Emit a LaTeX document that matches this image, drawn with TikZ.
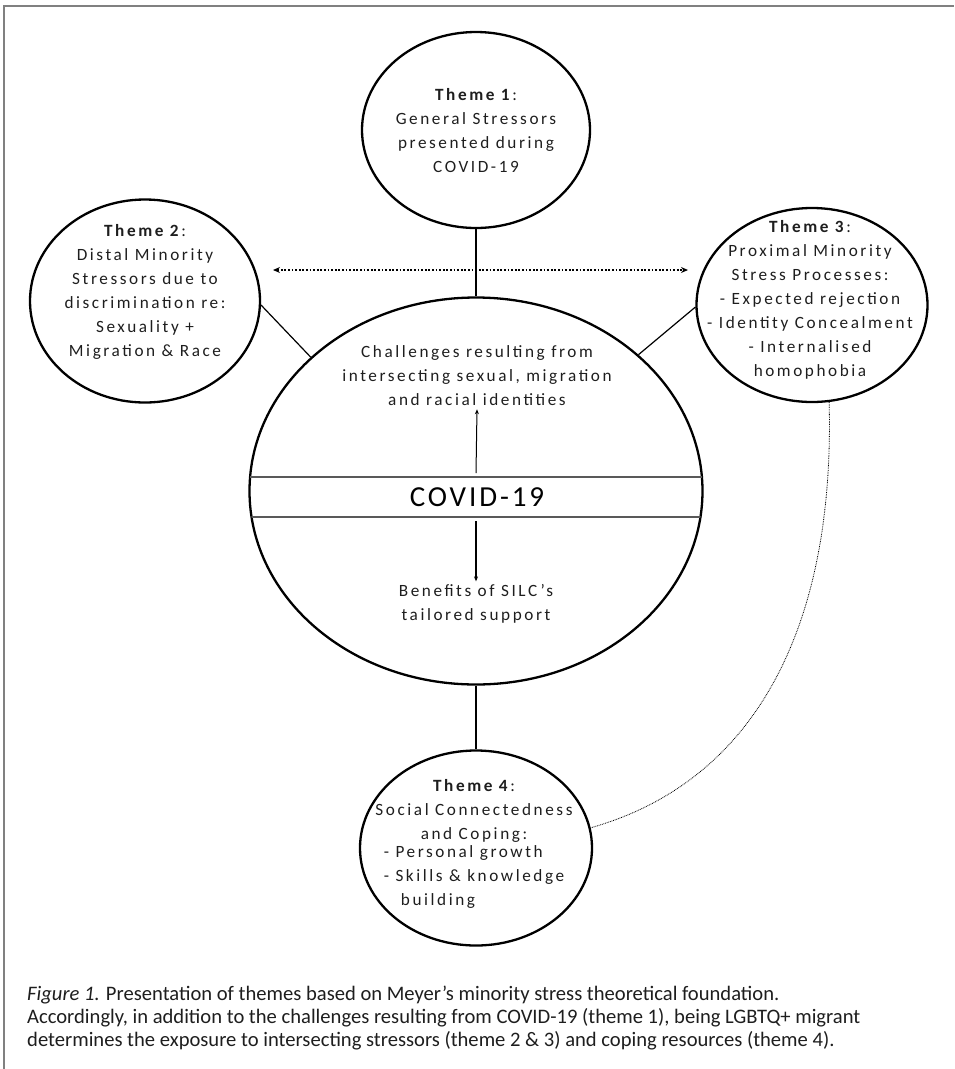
\documentclass[tikz,border=0pt]{standalone}
\usepackage{fontspec}
\setmainfont{Carlito}
\newfontfamily\widefont[LetterSpace=15]{Carlito}
\newfontfamily\titlefont[LetterSpace=10]{Carlito}
\usetikzlibrary{calc, shapes.geometric, arrows.meta}
\definecolor{txt}{HTML}{1E1E1E}

\begin{document}
\begin{tikzpicture}[x=1pt, y=-1pt,
		theme/.style={draw, ellipse, line width=2.3pt, inner sep=0pt},
		themetext/.style={align=center, text=txt, inner sep=0pt, font=\widefont\fontsize{17.2}{24}\selectfont},
		link/.style={line width=1.2pt},
		band/.style={line width=1.6pt, draw=black!65},
		tip/.style={-{Stealth[length=5pt, width=4pt]}}
	]
	\useasboundingbox (0,0) rectangle (954,1069);
	\draw [black!50, line width=2pt] (4,1069) -- (4,6) -- (954,6);
	
	% the themes
	\node [theme, minimum width=228pt, minimum height=196pt] (t1) at (476,130) {};
	\node [theme, minimum width=230pt, minimum height=203pt] (t2) at (145,301) {};
	\node [theme, minimum width=231pt, minimum height=194pt] (t3) at (812,305) {};
	\node [theme, minimum width=232pt, minimum height=195pt] (t4) at (476,848) {};
	\node [theme, minimum width=453pt, minimum height=387pt] (covid) at (476,491) {};
	
	\node [themetext] (t1txt) at (476,131) {\textbf{Theme 1}:\\General Stressors\\presented during\\COVID-19};
	\node [themetext] (t2txt) at (145,292) {\textbf{Theme 2}:\\Distal Minority\\Stressors due to\\discrimination re:\\Sexuality +\\Migration \& Race};
	\node [themetext] (t3txt) at (810,300) {\textbf{Theme 3}:\\Proximal Minority\\Stress Processes:\\- Expected rejection\\- Identity Concealment\\- Internalised\\homophobia};
	\node [themetext] (t4txt) at (474,846) {\textbf{Theme 4}:\\Social Connectedness\\and Coping:\\[-2pt]\begin{tabular}{@{}l@{}}- Personal growth\\- Skills \& knowledge\\\quad building\end{tabular}};
	
	% centre
	\begin{scope}
		\clip (covid.center) ellipse (226.5pt and 193.5pt);
		\draw [band] (240,477) -- (712,477);
		\draw [band] (240,517) -- (712,517);
	\end{scope}
	\node [inner sep=0pt, text=black, font=\titlefont\fontsize{29}{34}\selectfont] (covidlbl) at (477,497) {COVID-19};
	\node [themetext] (challenges) at (477,376) {Challenges resulting from\\intersecting sexual, migration\\and racial identities};
	\node [themetext] (benefits) at (476,604) {Benefits of SILC’s\\tailored support};
	
	\coordinate (upstart) at (476,473);
	\coordinate (downstart) at (476,521);
	\draw [tip, line width=1pt] (upstart) -- ($(challenges.south)+(0,3)$);
	\draw [tip, line width=2pt] (downstart) -- ($(benefits.north)+(0,-3)$);
	
	% links
	\draw [link] (t1.south) -- (covid.north);
	\draw [link] (covid.south) -- (t4.north);
	\draw [link] (t2.358) -- (covid.141);
	\draw [link] (t3.181) -- (covid.40);
	
	\coordinate (dl) at (273,270);
	\coordinate (dr) at (688,270);
	\draw [{Stealth[length=7pt, width=6pt]}-{Stealth[length=7pt, width=6pt]}, line width=1.8pt, dash pattern=on 1.8pt off 1.8pt] (dl) -- (dr);
	\draw [line width=0.8pt, dash pattern=on 0.8pt off 0.9pt] (t3.280) .. controls (835,620) and (760,780) .. (t4.10);
	
	% caption
	\node [anchor=north west, align=left, inner sep=0pt, text=txt, font=\fontsize{20.6}{23}\selectfont] (caption) at (27,986) {\textit{Figure 1.} Presentation of themes based on Meyer’s minority stress theoretical foundation.\\Accordingly, in addition to the challenges resulting from COVID-19 (theme 1), being LGBTQ+ migrant\\determines the exposure to intersecting stressors (theme 2 \& 3) and coping resources (theme 4).};
\end{tikzpicture}
\end{document}
